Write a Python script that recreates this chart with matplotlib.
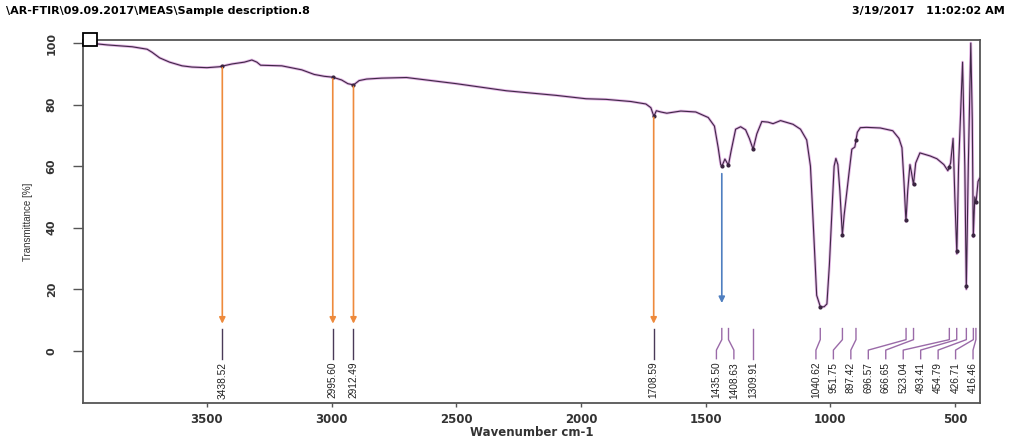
import numpy as np
import matplotlib
matplotlib.use("Agg")
import matplotlib.pyplot as plt
from matplotlib.patches import Rectangle

# spectrum (wavenumber cm-1, transmittance %)
wavenumber = [3997, 3900, 3800, 3740, 3720, 3690, 3650, 3600, 3560, 3500, 3450, 3400, 3350, 3320,
              3300, 3285, 3200, 3120, 3070, 3030, 2995, 2960, 2935, 2912, 2890, 2860, 2800, 2700,
              2500, 2300, 2100, 1980, 1900, 1800, 1740, 1720, 1708, 1698, 1680, 1656, 1600, 1540,
              1490, 1465, 1450, 1440, 1435, 1423, 1409, 1398, 1380, 1360, 1340, 1325, 1310, 1295,
              1275, 1250, 1230, 1200, 1150, 1120, 1095, 1080, 1068, 1055, 1040, 1025, 1014, 1004,
              994, 985, 978, 970, 962, 952, 945, 935, 925, 914, 902, 892, 880, 855, 800, 750, 725,
              713, 705, 697, 690, 681, 675, 667, 658, 641, 600, 573, 545, 529, 518, 508, 501, 493,
              486, 470, 461, 455, 447, 437, 431, 427, 421, 416, 408, 402]
transmittance = [100.2, 99.4, 98.8, 98.0, 97.0, 95.2, 93.8, 92.6, 92.2, 92.0, 92.3, 93.2, 93.8, 94.5,
                 93.8, 92.8, 92.6, 91.3, 89.8, 89.2, 88.9, 88.0, 86.8, 86.4, 87.8, 88.3, 88.6, 88.8,
                 86.8, 84.5, 83.0, 81.9, 81.7, 81.0, 80.2, 79.0, 76.2, 78.0, 77.6, 77.2, 77.9, 77.6,
                 75.8, 73.0, 66.0, 60.5, 60.0, 62.3, 60.3, 65.0, 72.0, 72.8, 71.8, 69.0, 65.5, 70.5,
                 74.5, 74.3, 73.8, 74.8, 73.6, 72.0, 68.5, 60.0, 40.0, 18.0, 14.2, 14.3, 15.2, 28.0,
                 45.0, 60.0, 62.5, 60.5, 52.0, 37.5, 44.0, 51.0, 58.0, 65.5, 66.2, 71.0, 72.5, 72.6,
                 72.4, 71.5, 69.0, 66.0, 55.0, 42.0, 52.0, 60.5, 58.0, 54.0, 61.0, 64.3, 63.3, 62.4,
                 60.5, 58.5, 61.0, 69.0, 50.0, 31.5, 60.0, 93.8, 60.0, 20.0, 60.0, 100.0, 75.0, 37.0,
                 50.0, 48.0, 55.0, 56.0]

peaks = [3438.52, 2995.60, 2912.49, 1708.59, 1435.50, 1408.63, 1309.91, 1040.62, 951.75,
         897.42, 696.57, 666.65, 523.04, 493.41, 454.79, 426.71, 416.46]
orange_peaks = [3438.52, 2995.60, 2912.49, 1708.59]
blue_peaks = [1435.50]

x_ticks = [3500, 3000, 2500, 2000, 1500, 1000, 500]
y_ticks = [0, 20, 40, 60, 80, 100]


def spread_labels(values, gap, low):
    """Push crowded label positions apart, keeping each cluster centred."""
    groups = [[v] for v in sorted(values)]
    while True:
        starts = [max(np.mean(g) - gap * (len(g) - 1) / 2, low) for g in groups]
        merged = False
        for i in range(len(groups) - 1):
            end = starts[i] + gap * (len(groups[i]) - 1)
            if starts[i + 1] - end < gap:
                groups[i] = groups[i] + groups.pop(i + 1)
                merged = True
                break
        if not merged:
            break
    pos = {}
    for g, s in zip(groups, starts):
        for k, v in enumerate(g):
            pos[v] = s + gap * k
    return pos


def t_at(w):
    return np.interp(w, wavenumber[::-1], transmittance[::-1])


fig = plt.figure(figsize=(10.29, 4.38), dpi=100)
ax = fig.add_axes([0.0807, 0.0799, 0.8717, 0.8288])

# spectrum: pink halo under a dark trace
ax.plot(wavenumber, transmittance, color="#e2b4e4", lw=2.0, solid_joinstyle="round", zorder=2)
ax.plot(wavenumber, transmittance, color="#3f2846", lw=0.8, zorder=3)
ax.plot(peaks, [t_at(p) for p in peaks], "o", color="#3a2540", ms=2.0, zorder=4)

# arrows from the bands down to the labels
for p in orange_peaks:
    ax.annotate("", xy=(p, 8.8), xytext=(p, t_at(p) - 0.5),
                arrowprops=dict(arrowstyle="-|>", color="#ee8a3c", lw=1.2,
                                mutation_scale=9, shrinkA=0, shrinkB=0), zorder=5)
for p in blue_peaks:
    ax.annotate("", xy=(p, 15.5), xytext=(p, t_at(p) - 2.5),
                arrowprops=dict(arrowstyle="-|>", color="#4f7fc0", lw=1.2,
                                mutation_scale=9, shrinkA=0, shrinkB=0), zorder=5)

# peak labels with leader lines
label_pos = spread_labels(peaks, 70, 428)
for p in peaks:
    tx = label_pos[p]
    col = "#4a3a58" if p in orange_peaks else "#9a6aa8"
    ax.plot([p, p, tx, tx], [7.2, 3.6, 0.2, -2.6], color=col, lw=1.0, zorder=3)
    ax.text(tx, -3.6, f"{p:.2f}", rotation=90, ha="center", va="top",
            fontsize=7.3, family="Liberation Sans", color="#222222")

ax.set_xlim(3997, 400)
ax.set_ylim(-17, 101)
ax.set_xticks(x_ticks)
ax.set_yticks(y_ticks)
ax.set_xticklabels([str(v) for v in x_ticks], fontsize=8.5, fontweight="bold",
                   family="DejaVu Sans", color="#333333")
ax.set_yticklabels([str(v) for v in y_ticks], fontsize=8, fontweight="bold",
                   family="DejaVu Sans", color="#333333", rotation=90, va="center")
ax.tick_params(axis="x", length=3, width=1, pad=4, color="#555555")
ax.tick_params(axis="y", length=7, width=1, pad=12, color="#555555")
for s in ax.spines.values():
    s.set_color("#555555")
    s.set_linewidth(1.3)

ax.set_xlabel("Wavenumber cm-1", fontsize=8.5, fontweight="bold", family="DejaVu Sans",
              color="#333333", va="center")
ax.xaxis.set_label_coords(0.5, -0.081)
ax.set_ylabel("Transmittance [%]", fontsize=7, family="Liberation Sans", color="#333333",
              labelpad=10)

fig.text(0.006, 0.975, "\\AR-FTIR\\09.09.2017\\MEAS\\Sample description.8", fontsize=8,
         fontweight="bold", family="DejaVu Sans", va="center", ha="left")
fig.text(0.828, 0.975, "3/19/2017   11:02:02 AM", fontsize=8, fontweight="bold",
         family="DejaVu Sans", va="center", ha="left")

# little marker box at the top-left corner
fig.add_artist(Rectangle((83 / 1029, 392 / 438), 14 / 1029, 13 / 438, transform=fig.transFigure,
                         facecolor="white", edgecolor="black", lw=1.3, zorder=10))

fig.savefig("out.png", dpi=100)
